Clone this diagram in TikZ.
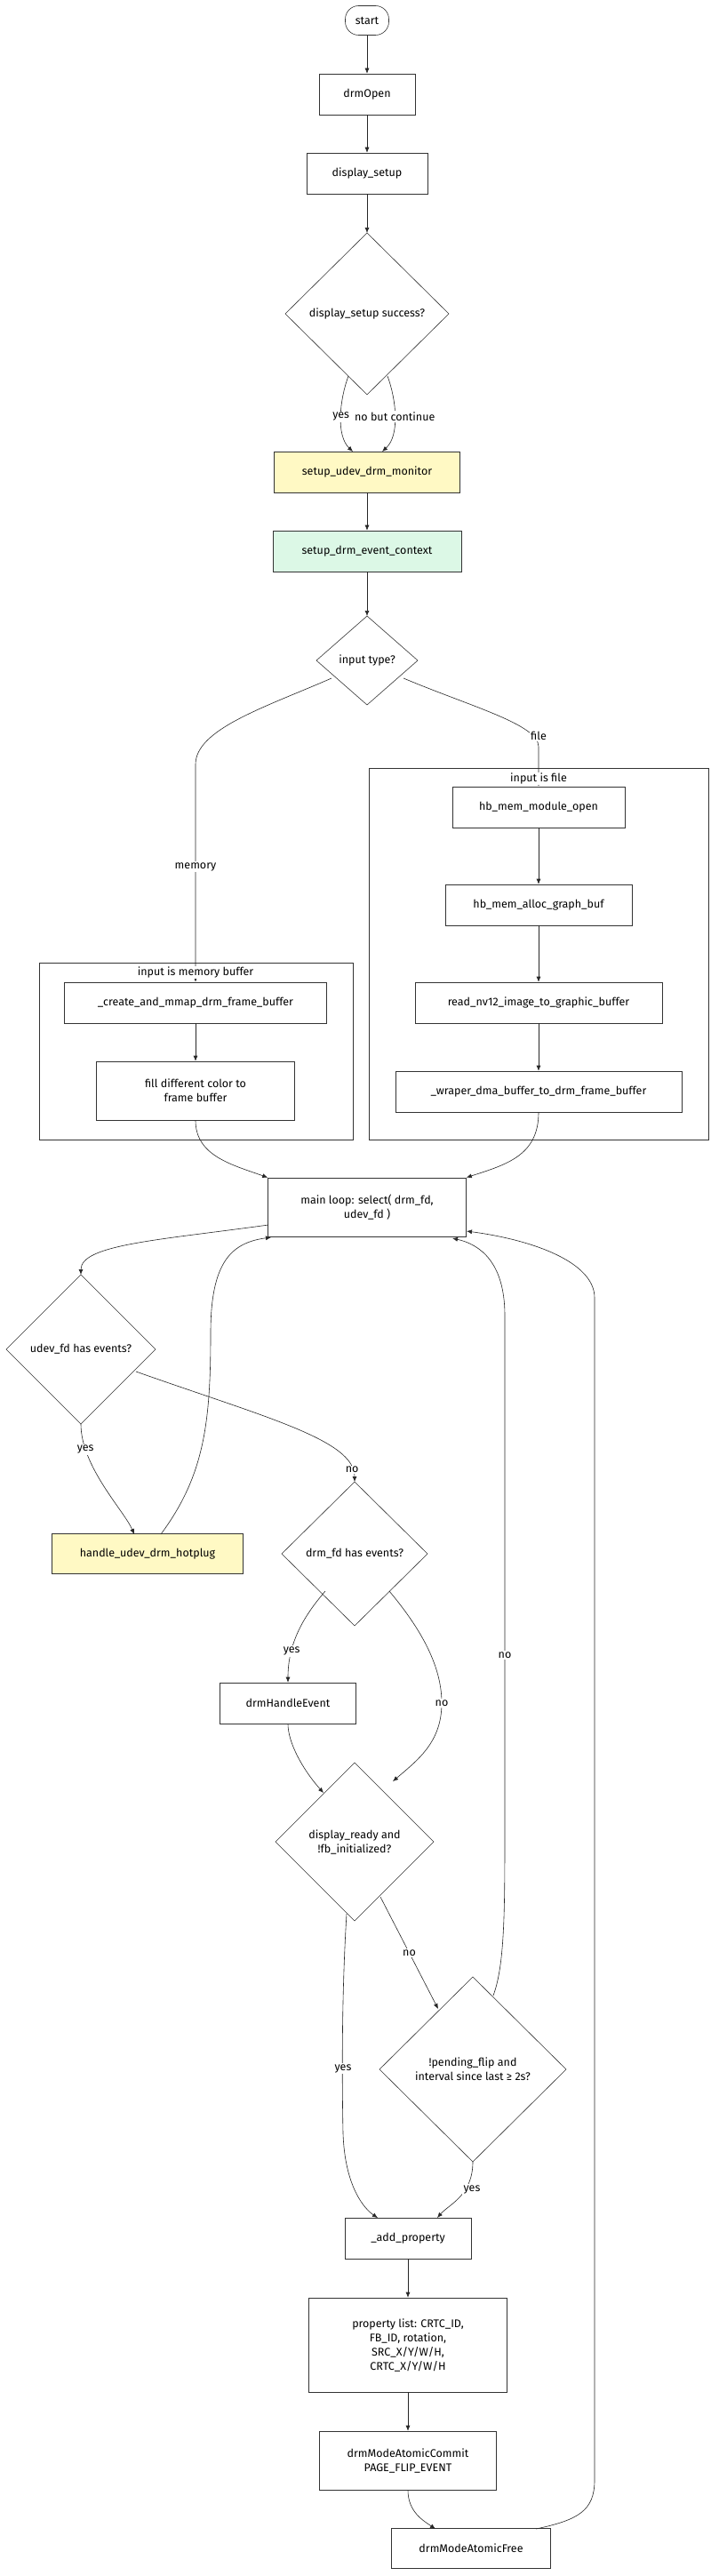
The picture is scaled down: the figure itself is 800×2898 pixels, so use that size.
\documentclass[tikz,border=0pt]{standalone}
\usepackage{fontspec}
\setmainfont{Fira Sans}
\usetikzlibrary{shapes.geometric,arrows.meta}
\begin{document}
\begin{tikzpicture}[x=1pt,y=-1pt,
  every node/.style={font=\fontsize{12.5}{16}\selectfont, inner sep=0pt, align=center},
  box/.style={draw=black!80, line width=0.6pt, rectangle},
  clus/.style={draw=black!80, line width=0.6pt},
  arr/.style={draw=black!85, line width=0.6pt, -{Latex[length=6pt,width=5pt]}},
  lbl/.style={fill=white, inner sep=1.5pt}]
\useasboundingbox (0,0) rectangle (800,2898);
% clusters
\draw[clus] (415,864) rectangle (797,1282);
\draw[clus] (44,1083) rectangle (397,1282);
% nodes
\node[draw=black!80, line width=0.6pt, rounded corners=15pt, minimum width=49pt, minimum height=33pt] (start) at (413,23) {start};
\node[box, minimum width=108pt, minimum height=46pt] (open) at (413,106) {drmOpen};
\node[box, minimum width=136pt, minimum height=46pt] (setup) at (413,195) {display\_setup};
\node[box, fill={rgb,255:red,255;green,249;blue,196}, minimum width=209pt, minimum height=46pt] (udevmon) at (413,531) {setup\_udev\_drm\_monitor};
\node[box, fill={rgb,255:red,220;green,248;blue,230}, minimum width=212pt, minimum height=46pt] (evctx) at (413,620) {setup\_drm\_event\_context};
\node[box, minimum width=194pt, minimum height=46pt] (hbopen) at (606,908) {hb\_mem\_module\_open};
\node[box, minimum width=210pt, minimum height=46pt] (hballoc) at (606,1018) {hb\_mem\_alloc\_graph\_buf};
\node[box, minimum width=278pt, minimum height=46pt] (readnv) at (606,1128) {read\_nv12\_image\_to\_graphic\_buffer};
\node[box, minimum width=322pt, minimum height=46pt] (wraper) at (606,1228) {\_wraper\_dma\_buffer\_to\_drm\_frame\_buffer};
\node[box, minimum width=295pt, minimum height=46pt] (create) at (220,1128) {\_create\_and\_mmap\_drm\_frame\_buffer};
\node[box, minimum width=223pt, minimum height=66pt] (fill) at (220,1227) {fill different color to\\frame buffer};
\node[box, minimum width=223pt, minimum height=66pt] (main) at (413,1358) {main loop: select( drm\_fd,\\udev\_fd )};
\node[box, fill={rgb,255:red,255;green,249;blue,196}, minimum width=215pt, minimum height=45pt] (hotplug) at (166,1748) {handle\_udev\_drm\_hotplug};
\node[box, minimum width=153pt, minimum height=46pt] (handle) at (324,1916) {drmHandleEvent};
\node[box, minimum width=142pt, minimum height=46pt] (addp) at (459,2518) {\_add\_property};
\node[box, minimum width=223pt, minimum height=106pt] (plist) at (459,2638) {property list: CRTC\_ID,\\FB\_ID, rotation,\\SRC\_X/Y/W/H,\\CRTC\_X/Y/W/H};
\node[box, minimum width=199pt, minimum height=66pt] (commit) at (459,2768) {drmModeAtomicCommit\\PAGE\_FLIP\_EVENT};
\node[box, minimum width=179pt, minimum height=45pt] (free) at (530,2867) {drmModeAtomicFree};
% diamonds
\newcommand{\mydia}[6]{%
  \draw[black!80, line width=0.6pt] (#2-#4,#3) -- (#2,#3-#5) -- (#2+#4,#3) -- (#2,#3+#5) -- cycle;
  \node (#1) at (#2,#3) {#6};
  \coordinate (#1-n) at (#2,#3-#5); \coordinate (#1-s) at (#2,#3+#5);}
\mydia{ok}{413}{353}{92}{91}{display\_setup success?}
\mydia{itype}{413}{743}{57}{50}{input type?}
\mydia{udev}{91}{1518}{84}{84}{udev\_fd has events?}
\mydia{drmfd}{399}{1748}{82}{81}{drm\_fd has events?}
\mydia{ready}{399}{2072}{89}{89}{display\_ready and\\!fb\_initialized?}
\mydia{pend}{532}{2328}{105}{104}{!pending\_flip and\\interval since last ≥ 2s?}
% straight edges
\draw[arr] (start) -- (open);
\draw[arr] (open) -- (setup);
\draw[arr] (setup) -- (ok-n);
\draw[arr] (udevmon) -- (evctx);
\draw[arr] (evctx) -- (itype-n);
\draw[arr] (hbopen) -- (hballoc);
\draw[arr] (hballoc) -- (readnv);
\draw[arr] (readnv) -- (wraper);
\draw[arr] (create) -- (fill);
\draw[arr] (addp) -- (plist);
\draw[arr] (plist) -- (commit);
% curved edges
\draw[arr] (392,423) .. controls (382,450) and (378,490) .. (397,508) node[pos=0.5, lbl] {yes};
\draw[arr] (436,423) .. controls (446,450) and (450,490) .. (430,508) node[pos=0.5, lbl] {no but continue};
\draw[arr] (373,763) .. controls (300,795) and (220,820) .. (220,860) -- (create.north) node[pos=0.47, lbl] {memory};
\draw[arr] (454,763) .. controls (530,795) and (606,815) .. (606,840) -- (hbopen.north);
\node[lbl] (filelbl) at (606,828) {file};
\node[fill=white, inner sep=1pt] (fclabel) at (606,876) {input is file};
\node[fill=white, inner sep=1pt] (mclabel) at (220,1094) {input is memory buffer};
\draw[arr] (fill.south) .. controls (220,1300) and (260,1310) .. (main.north west);
\draw[arr] (wraper.south) .. controls (606,1300) and (570,1310) .. (main.north east);
\draw[arr] (302,1378) .. controls (180,1395) and (91,1400) .. (udev-n);
\draw[arr] (udev-s) .. controls (91,1650) and (140,1700) .. (151,1726) node[pos=0.2, lbl] {yes};
\draw[arr] (153,1543) .. controls (300,1595) and (399,1620) .. (drmfd-n) node[pos=0.9, lbl] {no};
\draw[arr] (181,1726) .. controls (230,1660) and (237,1600) .. (237,1500) .. controls (237,1420) and (260,1398) .. (305,1392);
\draw[arr] (366,1790) .. controls (340,1820) and (324,1850) .. (handle.north) node[pos=0.7, lbl] {yes};
\draw[arr] (438,1790) .. controls (480,1840) and (497,1880) .. (497,1916) .. controls (497,1960) and (470,1980) .. (442,2004);
\node[lbl] (nolbl1) at (497,1916) {no};
\draw[arr] (handle.south) .. controls (324,1960) and (340,1990) .. (364,2017);
\draw[arr] (390,2153) .. controls (384,2250) and (385,2350) .. (386,2400) .. controls (388,2460) and (410,2485) .. (425,2495);
\node[lbl] (yeslbl2) at (386,2327) {yes};
\draw[arr] (428,2134) -- (493,2260) node[pos=0.5, lbl] {no};
\draw[arr] (555,2245) .. controls (568,2210) and (568,2150) .. (568,2050) -- (568,1480) .. controls (568,1420) and (540,1400) .. (509,1393);
\node[lbl] (nolbl2) at (568,1862) {no};
\draw[arr] (pend-s) .. controls (532,2470) and (505,2480) .. (492,2495);
\node[lbl] (yeslbl3) at (531,2463) {yes};
\draw[arr] (commit.south) .. controls (459,2825) and (475,2835) .. (490,2845);
\draw[arr] (603,2845) .. controls (650,2835) and (669,2825) .. (669,2790) -- (669,1460) .. controls (669,1420) and (600,1395) .. (525,1385);
\end{tikzpicture}
\end{document}
